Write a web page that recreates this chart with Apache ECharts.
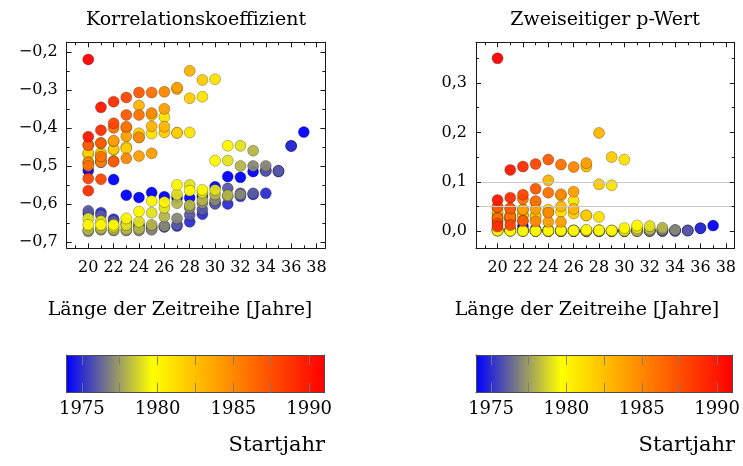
<!DOCTYPE html>
<html>
<head>
<meta charset="utf-8">
<script src="https://cdn.jsdelivr.net/npm/echarts@6/dist/echarts.min.js"></script>
<style>
  html, body { margin: 0; padding: 0; background: #ffffff; }
  #chart { width: 743px; height: 466px; }
</style>
</head>
<body>
<div id="chart"></div>
<script>
// Rolling-window statistics: one series per start year, window lengths 20, 21, ... years
const startYears = [1974, 1975, 1976, 1977, 1978, 1979, 1980, 1981, 1982,
                    1983, 1984, 1985, 1986, 1987, 1988, 1989, 1990, 1991];
const firstLength = 20;

// Correlation coefficient (lengths 20 .. 2011 - start year)
const corr1974 = [-0.512, -0.490, -0.536, -0.577, -0.583, -0.570, -0.581, -0.584, -0.584, -0.579, -0.555, -0.528, -0.530, -0.515, -0.513, -0.513, -0.447, -0.411];
const corr1975 = [-0.625, -0.623, -0.640, -0.650, -0.655, -0.660, -0.660, -0.658, -0.647, -0.627, -0.598, -0.600, -0.580, -0.575, -0.572, -0.515, -0.448];
const corr1976 = [-0.618, -0.630, -0.645, -0.655, -0.660, -0.665, -0.660, -0.655, -0.629, -0.615, -0.600, -0.559, -0.572, -0.572, -0.513, -0.513];
const corr1977 = [-0.672, -0.668, -0.670, -0.670, -0.670, -0.668, -0.658, -0.638, -0.610, -0.598, -0.590, -0.580, -0.575, -0.500, -0.500];
const corr1978 = [-0.668, -0.665, -0.667, -0.667, -0.665, -0.655, -0.633, -0.598, -0.603, -0.590, -0.575, -0.577, -0.500, -0.460];
const corr1979 = [-0.638, -0.645, -0.660, -0.655, -0.647, -0.623, -0.610, -0.575, -0.550, -0.570, -0.563, -0.486, -0.447];
const corr1980 = [-0.655, -0.655, -0.655, -0.638, -0.620, -0.592, -0.595, -0.550, -0.565, -0.563, -0.486, -0.447];
const corr1981 = [-0.470, -0.465, -0.458, -0.450, -0.425, -0.415, -0.371, -0.413, -0.412, -0.318, -0.272];
const corr1982 = [-0.465, -0.471, -0.456, -0.454, -0.414, -0.366, -0.412, -0.413, -0.322, -0.274];
const corr1983 = [-0.490, -0.480, -0.435, -0.400, -0.341, -0.396, -0.397, -0.298, -0.250];
const corr1984 = [-0.445, -0.440, -0.434, -0.422, -0.474, -0.467, -0.350, -0.294];
const corr1985 = [-0.492, -0.490, -0.487, -0.480, -0.425, -0.361, -0.305];
const corr1986 = [-0.500, -0.476, -0.400, -0.397, -0.366, -0.307];
const corr1987 = [-0.445, -0.440, -0.489, -0.366, -0.307];
const corr1988 = [-0.533, -0.535, -0.388, -0.320];
const corr1989 = [-0.565, -0.406, -0.331];
const corr1990 = [-0.423, -0.346];
const corr1991 = [-0.220];

// Two-sided p-value for the same windows
const pval1974 = [0.021, 0.024, 0.010, 0.004, 0.003, 0.003, 0.002, 0.0014, 0.0011, 0.001, 0.0015, 0.0023, 0.0018, 0.0022, 0.0019, 0.0016, 0.0063, 0.0115];
const pval1975 = [0.003, 0.0025, 0.0013, 0.0008, 0.0005, 0.0003, 0.0002, 0.0002, 0.0002, 0.0003, 0.0005, 0.0004, 0.0005, 0.0005, 0.0004, 0.0015, 0.006];
const pval1976 = [0.0037, 0.0022, 0.0012, 0.0007, 0.0004, 0.0003, 0.0002, 0.0002, 0.0003, 0.0004, 0.0005, 0.0011, 0.0006, 0.0005, 0.0019, 0.0016];
const pval1977 = [0.0012, 0.0009, 0.0006, 0.0005, 0.0003, 0.0003, 0.0003, 0.0003, 0.0006, 0.0006, 0.0006, 0.0006, 0.0006, 0.003, 0.0026];
const pval1978 = [0.0013, 0.001, 0.0007, 0.0005, 0.0004, 0.0004, 0.0005, 0.001, 0.0007, 0.0007, 0.0009, 0.0007, 0.0036, 0.007];
const pval1979 = [0.0025, 0.0016, 0.0008, 0.0007, 0.0006, 0.0009, 0.0009, 0.0017, 0.0024, 0.0012, 0.0012, 0.0056, 0.0104];
const pval1980 = [0.0017, 0.0013, 0.0009, 0.001, 0.0012, 0.0018, 0.0013, 0.003, 0.0017, 0.0015, 0.0065, 0.0117];
const pval1981 = [0.036, 0.034, 0.032, 0.031, 0.038, 0.039, 0.062, 0.032, 0.029, 0.093, 0.145];
const pval1982 = [0.039, 0.031, 0.033, 0.029, 0.044, 0.072, 0.036, 0.032, 0.095, 0.150];
const pval1983 = [0.028, 0.028, 0.043, 0.059, 0.103, 0.050, 0.045, 0.131, 0.199];
const pval1984 = [0.049, 0.046, 0.044, 0.045, 0.019, 0.019, 0.080, 0.138];
const pval1985 = [0.0275, 0.024, 0.021, 0.020, 0.038, 0.075, 0.130];
const pval1986 = [0.025, 0.029, 0.065, 0.061, 0.078, 0.135];
const pval1987 = [0.049, 0.046, 0.021, 0.086, 0.145];
const pval1988 = [0.0155, 0.0125, 0.074, 0.136];
const pval1989 = [0.0094, 0.068, 0.131];
const pval1990 = [0.063, 0.124];
const pval1991 = [0.350];

const corrSeries = [corr1974, corr1975, corr1976, corr1977, corr1978, corr1979, corr1980, corr1981, corr1982,
                    corr1983, corr1984, corr1985, corr1986, corr1987, corr1988, corr1989, corr1990, corr1991];
const pvalSeries = [pval1974, pval1975, pval1976, pval1977, pval1978, pval1979, pval1980, pval1981, pval1982,
                    pval1983, pval1984, pval1985, pval1986, pval1987, pval1988, pval1989, pval1990, pval1991];

// Tick positions
const lengthTicks = [20, 22, 24, 26, 28, 30, 32, 34, 36, 38];
const lengthMinorTicks = [19, 21, 23, 25, 27, 29, 31, 33, 35, 37];
const corrTicks = [-0.7, -0.6, -0.5, -0.4, -0.3, -0.2];
const corrMinorTicks = [-0.65, -0.55, -0.45, -0.35, -0.25];
const pvalTicks = [0, 0.1, 0.2, 0.3];
const pvalMinorTicks = [0.05, 0.15, 0.25, 0.35];
const colorbarLabels = [1975, 1980, 1985, 1990];
const colorbarTicks = [1975, 1977.5, 1980, 1982.5, 1985, 1987.5, 1990];
const significanceLevels = [0.1, 0.05];

// Colour map: blue -> yellow -> orange -> red over the start years
const colorbarMin = 1974;
const colorbarMax = 1991;
const mapColors = ['#0000ff', '#ffff00', '#ff8000', '#ff0000'];

// points as [length, value, start year], drawn in order of start year
function buildPoints(seriesList) {
  const pts = [];
  seriesList.forEach((values, i) => {
    values.forEach((v, k) => pts.push([firstLength + k, v, startYears[i]]));
  });
  return pts;
}
const corrPoints = buildPoints(corrSeries);
const pvalPoints = buildPoints(pvalSeries);

const serif = 'DejaVu Serif';
const ink = '#1a1a1a';

function decimalComma(v) {
  const s = Math.abs(v).toFixed(1).replace('.', ',');
  return (v < -1e-9 ? '\u2212' : '') + s;
}

function axis(kind, gridIndex, position, min, max, ticks, tickLen, opts) {
  opts = opts || {};
  const a = {
    type: 'value', gridIndex, position, min, max, z: 5,
    axisLine: { show: !!opts.line, onZero: false, lineStyle: { color: opts.lineColor || ink, width: 1 } },
    axisTick: ticks ? { show: true, inside: true, length: tickLen, customValues: ticks,
                        lineStyle: { color: opts.tickColor || ink, width: 1 } } : { show: false },
    axisLabel: { show: false },
    splitLine: { show: false },
    minorTick: { show: false }
  };
  if (opts.labels) {
    a.axisLabel = {
      show: true, customValues: opts.labels, formatter: opts.formatter, margin: opts.margin,
      color: '#000', fontFamily: serif, fontSize: opts.fontSize || 16
    };
  }
  return a;
}

// Two plot panels with frame axes on all four sides
const xRange = [18.3, 38.7];
const corrRange = [-0.7166, -0.175];
const pvalRange = [-0.0345, 0.3823];

const xAxes = [];
const yAxes = [];
function framedPanel(gridIndex, yMin, yMax, yTicks, yMinor) {
  xAxes.push(axis('x', gridIndex, 'bottom', xRange[0], xRange[1], lengthTicks, 5,
    { line: true, labels: lengthTicks, formatter: v => String(v), margin: 12 }));
  xAxes.push(axis('x', gridIndex, 'bottom', xRange[0], xRange[1], lengthMinorTicks, 3));
  xAxes.push(axis('x', gridIndex, 'top', xRange[0], xRange[1], lengthTicks, 5, { line: true }));
  xAxes.push(axis('x', gridIndex, 'top', xRange[0], xRange[1], lengthMinorTicks, 3));
  yAxes.push(axis('y', gridIndex, 'left', yMin, yMax, yTicks, 5,
    { line: true, labels: yTicks, formatter: decimalComma, margin: 9 }));
  yAxes.push(axis('y', gridIndex, 'left', yMin, yMax, yMinor, 3));
  yAxes.push(axis('y', gridIndex, 'right', yMin, yMax, yTicks, 5, { line: true }));
  yAxes.push(axis('y', gridIndex, 'right', yMin, yMax, yMinor, 3));
}
framedPanel(0, corrRange[0], corrRange[1], corrTicks, corrMinorTicks);
framedPanel(1, pvalRange[0], pvalRange[1], pvalTicks, pvalMinorTicks);

// Colour bars
function colorbarAxes(gridIndex) {
  const frame = '#4d4d4d';
  const tick = 'rgba(120,120,120,0.85)';
  xAxes.push(axis('x', gridIndex, 'bottom', colorbarMin, colorbarMax, colorbarTicks, 10,
    { line: true, lineColor: frame, tickColor: tick, labels: colorbarLabels,
      formatter: v => String(v), margin: 8, fontSize: 18 }));
  xAxes.push(axis('x', gridIndex, 'top', colorbarMin, colorbarMax, colorbarTicks, 10,
    { line: true, lineColor: frame, tickColor: tick }));
  yAxes.push(axis('y', gridIndex, 'left', 0, 1, null, 0, { line: true, lineColor: frame }));
  yAxes.push(axis('y', gridIndex, 'right', 0, 1, null, 0, { line: true, lineColor: frame }));
}
colorbarAxes(2);
colorbarAxes(3);

const gradientStops = mapColors.map((c, i) => ({ offset: i / (mapColors.length - 1), color: c }));

function colorbarSeries(axisIndex) {
  return {
    type: 'custom', xAxisIndex: axisIndex, yAxisIndex: axisIndex, silent: true, z: 1,
    data: [[colorbarMin, colorbarMax]],
    renderItem: function (params, api) {
      const p0 = api.coord([api.value(0), 0]);
      const p1 = api.coord([api.value(1), 1]);
      return {
        type: 'rect',
        shape: { x: p0[0], y: p1[1], width: p1[0] - p0[0], height: p0[1] - p1[1] },
        style: { fill: new echarts.graphic.LinearGradient(0, 0, 1, 0, gradientStops) }
      };
    }
  };
}

const markerStyle = { opacity: 0.95, borderColor: 'rgba(0,0,0,0.28)', borderWidth: 1 };

function label(text, x, y, align, size) {
  return {
    type: 'text', x, y, silent: true,
    style: { text, align, verticalAlign: 'middle', textAlign: align, textVerticalAlign: 'middle',
             fontFamily: serif, fontSize: size, fill: '#000' }
  };
}

const chart = echarts.init(document.getElementById('chart'), null, { renderer: 'canvas' });
chart.setOption({
  animation: false,
  backgroundColor: '#ffffff',
  grid: [
    { left: 66.7, top: 42.3, width: 258.7, height: 206 },
    { left: 476, top: 42.3, width: 258.7, height: 206 },
    { left: 66.7, top: 355, width: 257.6, height: 37.7 },
    { left: 476, top: 355, width: 259, height: 37.7 }
  ],
  xAxis: xAxes,
  yAxis: yAxes,
  visualMap: {
    type: 'continuous', show: false, dimension: 2, seriesIndex: [0, 1],
    min: colorbarMin, max: colorbarMax, inRange: { color: mapColors }
  },
  series: [
    { type: 'scatter', name: 'Korrelationskoeffizient', xAxisIndex: 0, yAxisIndex: 0,
      data: corrPoints, symbol: 'circle', symbolSize: 11, itemStyle: markerStyle, z: 3 },
    { type: 'scatter', name: 'Zweiseitiger p-Wert', xAxisIndex: 4, yAxisIndex: 4,
      data: pvalPoints, symbol: 'circle', symbolSize: 11, itemStyle: markerStyle, z: 3 },
    { type: 'line', xAxisIndex: 4, yAxisIndex: 4, data: [], z: 1, silent: true,
      markLine: { silent: true, symbol: 'none', animation: false, label: { show: false },
        lineStyle: { color: '#c8c8c8', type: 'solid', width: 1 },
        data: significanceLevels.map(v => ({ yAxis: v })) } },
    colorbarSeries(8),
    colorbarSeries(10)
  ],
  graphic: [
    label('Korrelationskoeffizient', 196, 20, 'center', 19),
    label('Zweiseitiger p-Wert', 605, 20, 'center', 19),
    label('L\u00e4nge der Zeitreihe [Jahre]', 180, 310, 'center', 19),
    label('L\u00e4nge der Zeitreihe [Jahre]', 587, 310, 'center', 19),
    label('Startjahr', 325, 446, 'right', 21),
    label('Startjahr', 735, 446, 'right', 21)
  ]
});
</script>
</body>
</html>
